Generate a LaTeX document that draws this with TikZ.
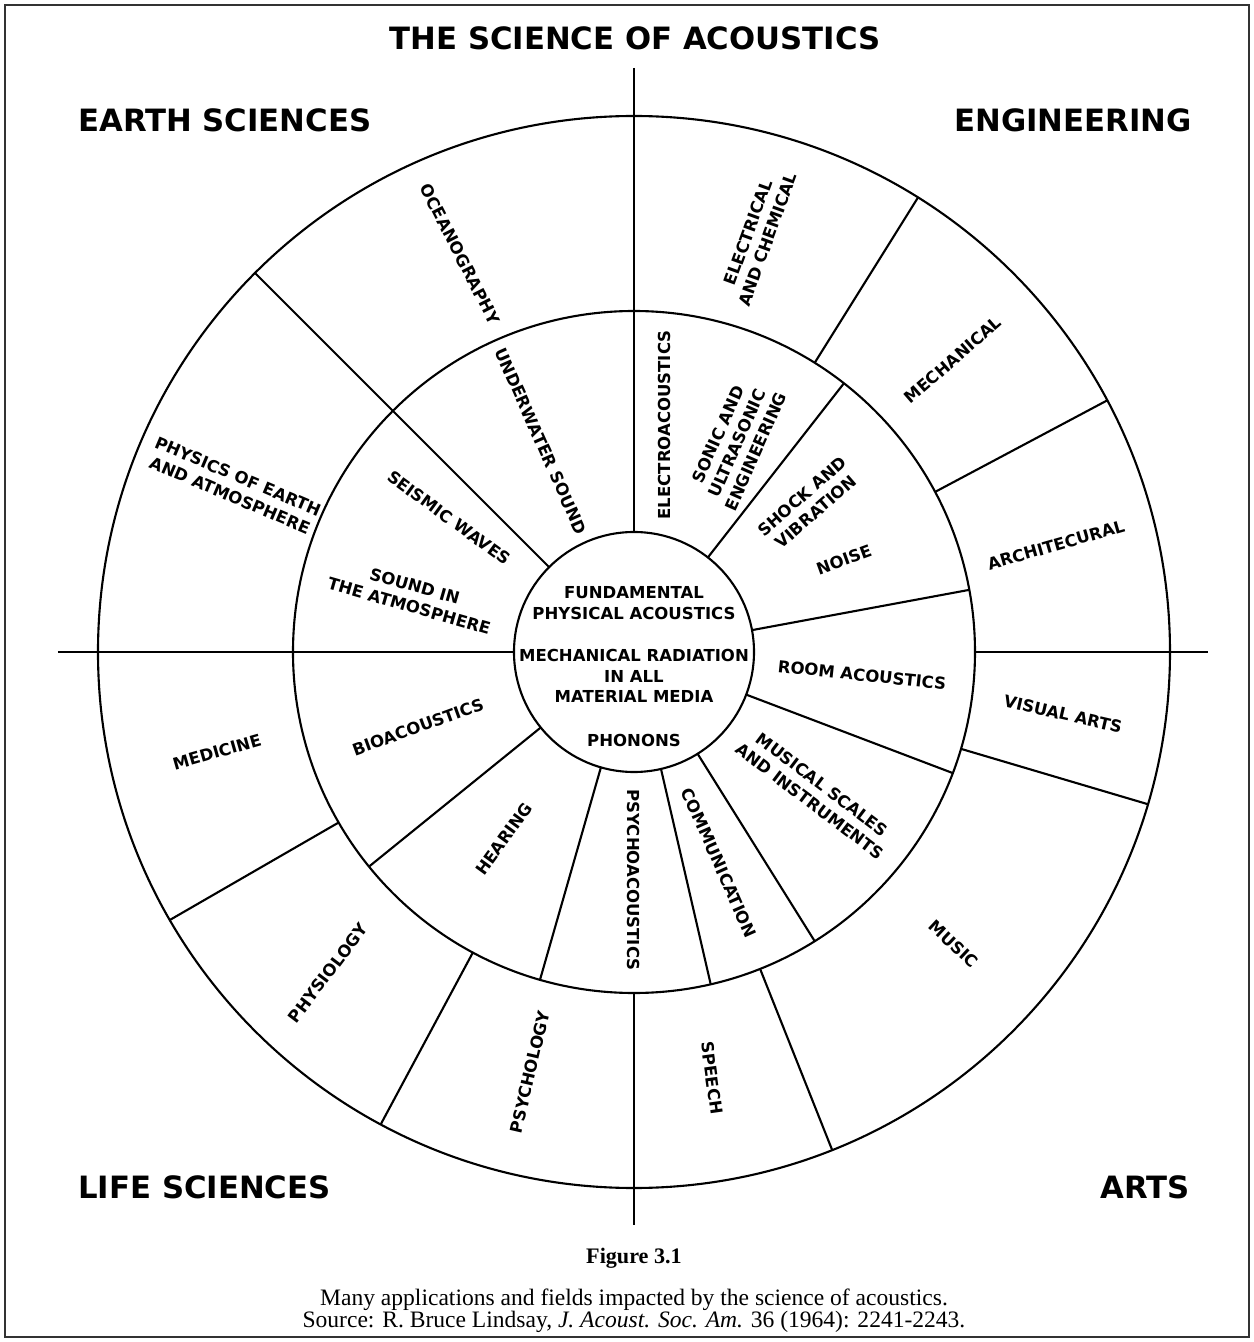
\documentclass[tikz,border=0pt]{standalone}
\usepackage{fontspec}
\setmainfont{Liberation Serif}
\newfontfamily\lblfont{DejaVu Sans}
\begin{document}
\begin{tikzpicture}[x=0.02cm,y=0.02cm,
  lbl/.style={font=\lblfont\bfseries\fontsize{9.4}{11.8}\selectfont, align=center, inner sep=0pt},
  hdr/.style={font=\lblfont\bfseries\fontsize{17.5}{20}\selectfont, inner sep=0pt},
  ringline/.style={line width=1.2pt},
  captext/.style={font=\fontsize{13.4}{15}\selectfont, inner sep=0pt}]
\useasboundingbox (-634,-690) rectangle (620,652);
% frame
\draw[line width=1pt, black!80] (-629,647) rectangle (615,-685);
% circles
\node[ringline, draw, circle, minimum size=1072*0.02cm, inner sep=0pt] (outer) at (0,0) {};
\node[ringline, draw, circle, minimum size=682*0.02cm, inner sep=0pt] (middle) at (0,0) {};
\node[ringline, draw, circle, minimum size=240*0.02cm, inner sep=0pt] (inner) at (0,0) {};
% axes
\coordinate (vtop) at (0,584);
\coordinate (vbot) at (0,-573);
\coordinate (hleft) at (-576,0);
\coordinate (hright) at (574,0);
\draw[ringline] (vtop) -- (inner.north);
\draw[ringline] (middle.south) -- (vbot);
\draw[ringline] (hleft) -- (inner.west);
\draw[ringline] (middle.east) -- (hright);
% outer ring spokes
\foreach \a in {58,28,-16.5,-68.3,241.8,210}
  \draw[ringline] (\a:341) -- (\a:536);
% full spoke
\draw[ringline] (135:120) -- (135:536);
% middle ring spokes
\foreach \a in {52,10.5,-20.8,-58,-77,-106,219}
  \draw[ringline] (\a:120) -- (\a:341);
% inner circle text
\node[lbl] (fund) at (0,49) {FUNDAMENTAL\\PHYSICAL ACOUSTICS};
\node[lbl] (mech) at (0,-24) {MECHANICAL RADIATION\\IN ALL\\MATERIAL MEDIA};
\node[lbl] (phon) at (0,-88) {PHONONS};
% middle ring labels
\node[lbl, rotate=-66] (uws) at (-93,211) {UNDERWATER SOUND};
\node[lbl, rotate=-36] (seis) at (-185,134) {SEISMIC WAVES};
\node[lbl, rotate=-16] (atm) at (-222,56) {SOUND IN\\THE ATMOSPHERE};
\node[lbl, rotate=90] (electro) at (30,227) {ELECTROACOUSTICS};
\node[lbl, rotate=66] (sonic) at (103,209) {SONIC AND\\ULTRASONIC\\ENGINEERING};
\node[lbl, rotate=41] (shock) at (175,148) {SHOCK AND\\VIBRATION};
\node[lbl, rotate=20] (noise) at (210,92) {NOISE};
\node[lbl, rotate=-6] (room) at (228,-23) {ROOM ACOUSTICS};
\node[lbl, rotate=-37] (musical) at (182,-141) {MUSICAL SCALES\\AND INSTRUMENTS};
\node[lbl, rotate=-66] (comm) at (85,-211) {COMMUNICATION};
\node[lbl, rotate=-90] (psychoac) at (0,-228) {PSYCHOACOUSTICS};
\node[lbl, rotate=54] (hear) at (-130,-187) {HEARING};
\node[lbl, rotate=20] (bio) at (-216,-75) {BIOACOUSTICS};
% outer ring labels
\node[lbl, rotate=-63] (ocean) at (-174,398) {OCEANOGRAPHY};
\node[lbl, rotate=-23] (phys) at (-400,166) {PHYSICS OF EARTH\\AND ATMOSPHERE};
\node[lbl, rotate=70] (elec) at (124,416) {ELECTRICAL\\AND CHEMICAL};
\node[lbl, rotate=41] (mechan) at (319,292) {MECHANICAL};
\node[lbl, rotate=16] (arch) at (422,107) {ARCHITECURAL};
\node[lbl, rotate=-13] (visual) at (429,-62) {VISUAL ARTS};
\node[lbl, rotate=-43] (music) at (320,-292) {MUSIC};
\node[lbl, rotate=-82] (speech) at (78,-426) {SPEECH};
\node[lbl, rotate=77] (psych) at (-104,-420) {PSYCHOLOGY};
\node[lbl, rotate=53] (physio) at (-306,-321) {PHYSIOLOGY};
\node[lbl, rotate=16] (medic) at (-417,-100) {MEDICINE};
% headers
\node[hdr] (title) at (1,614) {THE SCIENCE OF ACOUSTICS};
\node[hdr, anchor=west] (earth) at (-556,532) {EARTH SCIENCES};
\node[hdr, anchor=east] (eng) at (558,532) {ENGINEERING};
\node[hdr, anchor=west] (life) at (-556,-535) {LIFE SCIENCES};
\node[hdr, anchor=east] (arts) at (556,-535) {ARTS};
% caption
\node[captext, font=\bfseries\fontsize{12.6}{14}\selectfont] (fig) at (0,-606) {Figure 3.1};
\node[captext] (capl1) at (0,-648) {Many applications and fields impacted by the science of acoustics.};
\node[captext] (capl2) at (0,-670) {Source: R. Bruce Lindsay, \textit{J. Acoust. Soc. Am.} 36 (1964): 2241-2243.};
\end{tikzpicture}
\end{document}
